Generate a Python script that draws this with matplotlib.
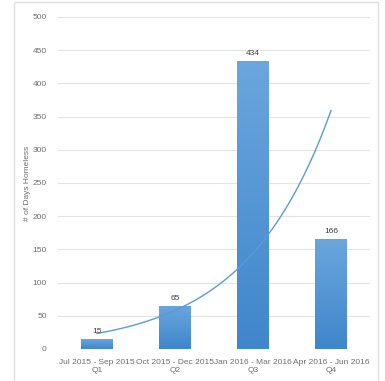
import numpy as np
import matplotlib.pyplot as plt
from matplotlib.patches import Rectangle
from matplotlib.colors import LinearSegmentedColormap

# chart data
periods = ['Jul 2015 - Sep 2015', 'Oct 2015 - Dec 2015', 'Jan 2016 - Mar 2016', 'Apr 2016 - Jun 2016']
quarters = ['Q1', 'Q2', 'Q3', 'Q4']
days = [15, 65, 434, 166]
yticks = [0, 50, 100, 150, 200, 250, 300, 350, 400, 450, 500]

plt.rcParams['font.family'] = ['Liberation Sans', 'DejaVu Sans']

fig = plt.figure(figsize=(3.85, 3.81), dpi=100)
ax = fig.add_axes([0.1506, 0.084, 0.8104, 0.8714])

x = np.arange(len(days))
bars = ax.bar(x, days, width=0.41, color='#5b9bd5', zorder=3)

# vertical gradient fill for each bar (light top, darker bottom)
cmap = LinearSegmentedColormap.from_list('bar', ['#3f86cb', '#6ba6dd'])
grad = np.linspace(0, 1, 256).reshape(-1, 1)
for b in bars:
    x0, w, h = b.get_x(), b.get_width(), b.get_height()
    im = ax.imshow(grad, cmap=cmap, origin='lower', aspect='auto',
                   extent=(x0, x0 + w, 0, h), zorder=3)
    im.set_clip_path(b)

# exponential trendline (like Excel's), fitted to the bar values
coef = np.polyfit(x + 1, np.log(days), 1)
xs = np.linspace(1, len(days), 100)
ax.plot(xs - 1, np.exp(np.polyval(coef, xs)), color='#5b9bd5', lw=1.0, zorder=4)

for xi, v in zip(x, days):
    ax.text(xi, v + 6, str(v), ha='center', va='bottom', fontsize=6,
            color='#404040', zorder=5)

ax.set_xlim(-0.5, len(days) - 0.5)
ax.set_ylim(0, 500)
ax.set_yticks(yticks)
ax.set_xticks(x)
ax.set_xticklabels([p + '\n' + q for p, q in zip(periods, quarters)])
ax.tick_params(axis='both', length=0, labelsize=6, labelcolor='#6e6e6e')
ax.tick_params(axis='y', pad=8)
ax.tick_params(axis='x', pad=7)
ax.yaxis.grid(True, color='#e3e3e3', lw=0.8, zorder=0)
for s in ax.spines.values():
    s.set_visible(False)
ax.set_ylabel('# of Days Homeless', fontsize=6, color='#6e6e6e', labelpad=1)

# chart border
fig.patches.append(Rectangle((14 / 385, -0.05), 364 / 385, 1 - 2 / 381 + 0.05,
                             transform=fig.transFigure, fill=False,
                             edgecolor='#e0e0e0', lw=1.0))

fig.savefig('out.png', dpi=100)
